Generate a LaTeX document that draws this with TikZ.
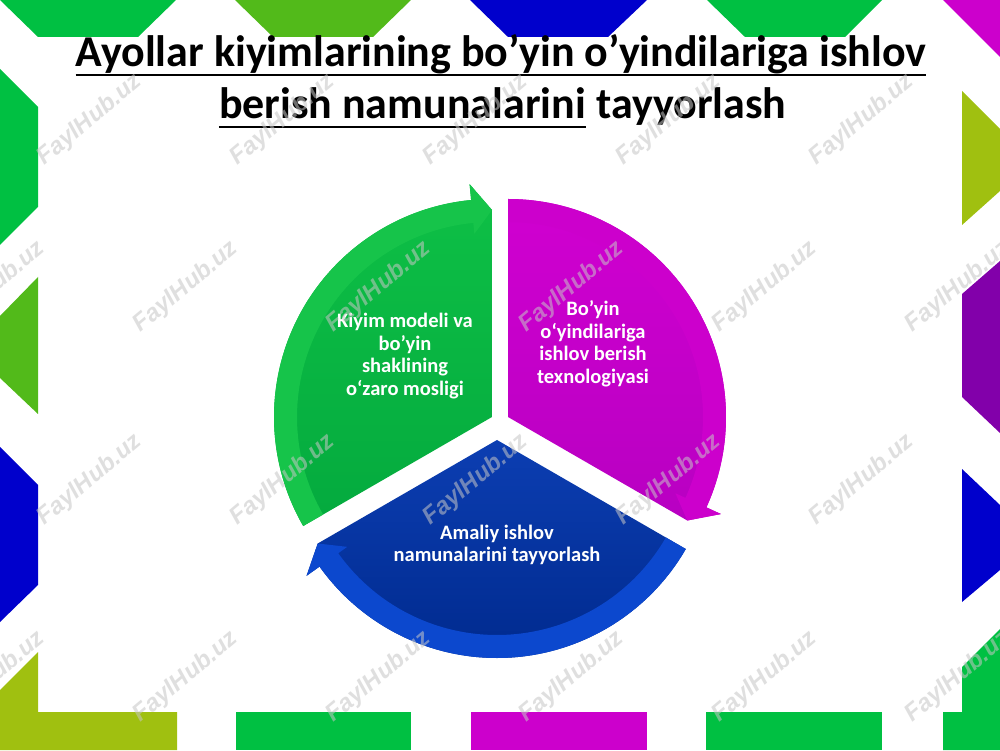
\documentclass[tikz,border=0pt]{standalone}
\usepackage{fontspec}
\setmainfont{Carlito}
\newfontfamily\wmfont{Liberation Sans}
\usepackage{tikz}
\usepackage{xcolor}
\usetikzlibrary{positioning}

% colours of the frame pieces
\definecolor{decoGreen}{RGB}{0,192,66}
\definecolor{decoLime}{RGB}{82,186,26}
\definecolor{decoOlive}{RGB}{160,192,16}
\definecolor{decoBlue}{RGB}{0,0,204}
\definecolor{decoMagenta}{RGB}{204,0,204}
\definecolor{decoPurple}{RGB}{130,0,170}
% colours of the cycle segments
\definecolor{topgrn}{RGB}{14,192,70}
\definecolor{botgrn}{RGB}{4,170,62}
\definecolor{bandgrn}{RGB}{22,196,74}
\definecolor{topmag}{RGB}{208,0,208}
\definecolor{botmag}{RGB}{184,0,194}
\definecolor{bandmag}{RGB}{204,0,204}
\definecolor{topblu}{RGB}{12,62,178}
\definecolor{botblu}{RGB}{0,42,142}
\definecolor{bandblu}{RGB}{12,72,206}

\begin{document}
\begin{tikzpicture}[x=1pt, y=1pt,
    segtext/.style={text=white, font=\fontsize{20.5}{22.5}\selectfont\bfseries, align=center},
    heading/.style={font=\fontsize{44}{50}\selectfont\bfseries, inner sep=0pt},
    uline/.style={line width=2.8pt},
    watermark/.style={font=\wmfont\fontsize{24}{26}\selectfont\bfseries\itshape,
        text=gray!45!white, opacity=0.55, rotate=40}]
    % Fix the page
    \useasboundingbox (0,0) rectangle (1000,750);
    \fill[white] (0,0) rectangle (1000,750);

    % Frame pieces along the top
    \fill[decoGreen] (0,750) -- (176,750) -- (138,713) -- (38,713) -- cycle;
    \fill[decoLime] (235,750) -- (411,750) -- (373,713) -- (273,713) -- cycle;
    \fill[decoBlue] (470,750) -- (647,750) -- (608,713) -- (508,713) -- cycle;
    \fill[decoGreen] (707,750) -- (882,750) -- (845,713) -- (745,713) -- cycle;
    \fill[decoMagenta] (943,750) -- (1000,750) -- (1000,693) -- cycle;

    % Frame pieces on the left
    \fill[decoGreen] (0,681) -- (38,643) -- (38,543) -- (0,505) -- cycle;
    \fill[decoLime] (38,473) -- (38,336) -- (0,372) -- (0,434) -- cycle;
    \fill[decoBlue] (0,303) -- (38,265) -- (38,165) -- (0,128) -- cycle;
    \fill[decoOlive] (0,60) -- (38,98) -- (38,38) -- (177,38) -- (177,0) -- (0,0) -- cycle;

    % Frame pieces along the bottom
    \fill[decoGreen] (236,0) rectangle (411,38);
    \fill[decoMagenta] (471,0) rectangle (647,38);
    \fill[decoGreen] (706,0) rectangle (882,38);
    \fill[decoGreen] (943,0) -- (943,38) -- (962,38) -- (962,83) -- (1000,121) -- (1000,0) -- cycle;

    % Frame pieces on the right
    \fill[decoOlive] (962,659) -- (1000,621) -- (1000,559) -- (962,525) -- cycle;
    \fill[decoPurple] (962,456) -- (1000,489) -- (1000,317) -- (962,353) -- cycle;
    \fill[decoBlue] (962,281) -- (1000,245) -- (1000,180) -- (962,148) -- cycle;

    % Title
    \node[heading, anchor=base] (t1) at (501,683) {Ayollar kiyimlarining bo’yin o’yindilariga ishlov};
    \node[heading, anchor=base east] (t2a) at (586,631) {berish namunalarini};
    \node[heading, base right=10pt of t2a] (t2b) {tayyorlash};
    \draw[uline] ([yshift=-8pt]t1.base west) -- ([yshift=-8pt]t1.base east);
    \draw[uline] ([yshift=-8pt]t2a.base west) -- ([yshift=-8pt]t2a.base east);

    % Cycle segments, each with its arrow head at the clockwise end
    \foreach \ax/\ay/\s/\e/\nm in {492/333/210/90/grn, 508/333/90/-30/mag, 497/310/330/210/blu} {
        \pgfmathsetmacro{\bs}{\e+5.5}
        \coordinate (apex) at (\ax,\ay);
        \shade[top color=top\nm, bottom color=bot\nm] (apex) -- ([shift={(\s:218)}]apex)
            arc[start angle=\s, end angle=\bs, radius=218] -- ([shift={(\bs:234)}]apex)
            -- ([shift={(\e:207)}]apex) -- cycle;
        \fill[band\nm] ([shift={(\s:218)}]apex)
            arc[start angle=\s, end angle=\bs, radius=218] -- ([shift={(\bs:234)}]apex)
            -- ([shift={(\e:207)}]apex) -- ([shift={(\bs:184)}]apex) -- ([shift={(\bs:195)}]apex)
            arc[start angle=\bs, end angle=\s, radius=195] -- cycle;
    }

    % Segment labels
    \node[segtext] (fit) at (405,394) {Kiyim modeli va\\bo’yin\\shaklining\\o‘zaro mosligi};
    \node[segtext] (tech) at (593,406) {Bo’yin\\o‘yindilariga\\ishlov berish\\texnologiyasi};
    \node[segtext] (sample) at (497,205) {Amaliy ishlov\\namunalarini tayyorlash};

    % Watermarks
    \foreach \wx/\wy in {90/630, 283/630, 476/630, 669/630, 862/630,
                         -7/463, 186/463, 379/463, 572/463, 765/463, 958/463,
                         90/270, 283/270, 476/270, 669/270, 862/270,
                         -7/73, 186/73, 379/73, 572/73, 765/73, 958/73}
        \node[watermark] (wm-\wx-\wy) at (\wx,\wy) {FaylHub.uz};
\end{tikzpicture}
\end{document}
